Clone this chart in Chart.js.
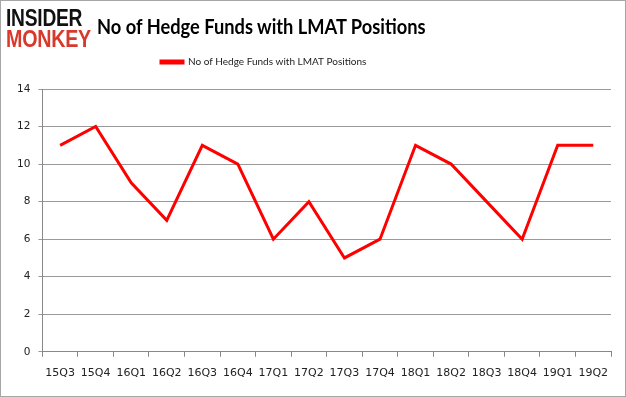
<!DOCTYPE html>
<html><head><meta charset="utf-8">
<script src="https://cdn.jsdelivr.net/npm/chart.js@4"></script>
<style>
html,body{margin:0;padding:0;background:#fff;}
#wrap{position:relative;width:626px;height:397px;box-sizing:border-box;border:1px solid #a6a6a6;overflow:hidden;}
#logo{position:absolute;left:5px;top:6px;font-family:"Liberation Sans",sans-serif;font-weight:700;line-height:21px;font-size:24px;}
#logo div{transform-origin:0 0;white-space:nowrap;}
#logo .a{color:#111;transform:scaleX(0.8);letter-spacing:-0.3px;}
#logo .b{color:#d8392b;transform:scaleX(0.82);letter-spacing:-0.3px;}
#title{position:absolute;left:96px;top:12px;font-family:"Lato",sans-serif;font-weight:700;font-size:21px;color:#000;white-space:nowrap;transform:scaleX(0.87);transform-origin:0 0;}
canvas{position:absolute;left:0;top:0;}
</style></head>
<body>
<div id="wrap">
<canvas id="c" width="624" height="395"></canvas>
<div id="logo"><div class="a">INSIDER</div><div class="b">MONKEY</div></div>
<div id="title">No of Hedge Funds with LMAT Positions</div>
</div>
<script>
const categories = ["15Q3","15Q4","16Q1","16Q2","16Q3","16Q4","17Q1","17Q2","17Q3","17Q4","18Q1","18Q2","18Q3","18Q4","19Q1","19Q2"];
const hedgeFunds = [11,12,9,7,11,10,6,8,5,6,11,10,8,6,11,11];
const yTicks = [0,2,4,6,8,10,12,14];
const seriesName = "No of Hedge Funds with LMAT Positions";

const legendSpacer = {
  id: 'legendSpacer',
  beforeInit(chart) {
    const origFit = chart.legend.fit;
    chart.legend.fit = function () { origFit.call(this); this.height += 12; };
  },
  beforeDraw(chart) {
    chart.legend.left = 146;
  }
};

new Chart(document.getElementById('c'), {
  type: 'line',
  data: {
    labels: categories,
    datasets: [{
      label: seriesName,
      data: hedgeFunds,
      borderColor: '#ff0000',
      backgroundColor: '#ff0000',
      borderWidth: 3,
      pointRadius: 0,
      tension: 0
    }]
  },
  plugins: [legendSpacer],
  options: {
    responsive: false,
    animation: false,
    layout: { padding: { left: 8, right: 14, top: 42, bottom: 6 } },
    plugins: {
      legend: {
        display: true,
        position: 'top',
        align: 'start',
        labels: {
          boxWidth: 22, boxHeight: 2,
          font: { family: "'Lato', sans-serif", size: 10 },
          color: '#222',
          padding: 14
        }
      },
      tooltip: { enabled: false }
    },
    scales: {
      x: {
        offset: true,
        grid: { offset: true, drawOnChartArea: false, drawTicks: true, tickLength: 5, color: '#888' },
        border: { color: '#888' },
        ticks: { font: { family: "'DejaVu Sans', sans-serif", size: 11 }, color: '#222', padding: 10, maxRotation: 0, autoSkip: false }
      },
      y: {
        min: 0, max: 14,
        afterBuildTicks: (ax) => { ax.ticks = yTicks.map(v => ({ value: v })); },
        grid: { color: '#999', tickLength: 4 },
        border: { color: '#888' },
        ticks: { font: { family: "'DejaVu Sans', sans-serif", size: 10.5 }, color: '#222', padding: 8 }
      }
    }
  }
});
</script>
</body></html>
